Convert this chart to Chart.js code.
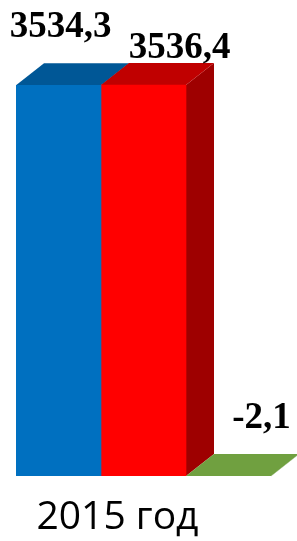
<!DOCTYPE html>
<html>
<head>
<meta charset="utf-8">
<script src="https://cdn.jsdelivr.net/npm/chart.js@4.4.1/dist/chart.umd.min.js"></script>
<style>
  html, body { margin: 0; padding: 0; background: #fff; }
  #wrap { width: 297px; height: 541px; position: relative; }
</style>
</head>
<body>
<div id="wrap"><canvas id="chart"></canvas></div>
<script>
// данные
const categories = ['2015 год'];
const seriesNames = ['Доходы', 'Расходы', 'Дефицит'];
const incomeValues = [3534.3];
const expenseValues = [3536.4];
const balanceValues = [-2.1];

// глубина "3D" граней
const DEPTH_X = 28;
const DEPTH_Y = 22;

function fmt(v) {
  return v.toFixed(1).replace('.', ',');
}

// верх и боковая грань каждого столбика + подписи значений
const depthPlugin = {
  id: 'depth',
  beforeDatasetsDraw(chart) {
    const ctx = chart.ctx;
    chart.data.datasets.forEach((ds, i) => {
      chart.getDatasetMeta(i).data.forEach((bar) => {
        const left = bar.x - bar.width / 2;
        const right = bar.x + bar.width / 2;
        const top = Math.min(bar.y, bar.base);
        const bottom = Math.max(bar.y, bar.base);
        ctx.save();
        ctx.fillStyle = ds.sideColor;
        ctx.beginPath();
        ctx.moveTo(right, top);
        ctx.lineTo(right + DEPTH_X, top - DEPTH_Y);
        ctx.lineTo(right + DEPTH_X, bottom - DEPTH_Y);
        ctx.lineTo(right, bottom);
        ctx.closePath();
        ctx.fill();
        ctx.fillStyle = ds.topColor;
        ctx.beginPath();
        ctx.moveTo(left, top);
        ctx.lineTo(right, top);
        ctx.lineTo(right + DEPTH_X, top - DEPTH_Y);
        ctx.lineTo(left + DEPTH_X, top - DEPTH_Y);
        ctx.closePath();
        ctx.fill();
        ctx.restore();
      });
    });
  },
  afterDatasetsDraw(chart) {
    const ctx = chart.ctx;
    ctx.save();
    ctx.font = 'bold 37px "Liberation Serif", "Times New Roman", serif';
    ctx.fillStyle = '#000';
    ctx.textAlign = 'center';
    ctx.textBaseline = 'alphabetic';
    chart.data.datasets.forEach((ds, i) => {
      chart.getDatasetMeta(i).data.forEach((bar, j) => {
        const top = Math.min(bar.y, bar.base);
        ctx.fillText(fmt(ds.data[j]), bar.x + ds.labelShift[0], top - ds.labelShift[1]);
      });
    });
    ctx.restore();
  }
};

new Chart(document.getElementById('chart'), {
  type: 'bar',
  data: {
    labels: categories,
    datasets: [
      {
        label: seriesNames[0],
        data: incomeValues,
        backgroundColor: '#0070C0',
        topColor: '#005796',
        sideColor: '#004A80',
        labelShift: [2, 48],
      },
      {
        label: seriesNames[1],
        data: expenseValues,
        backgroundColor: '#FF0000',
        topColor: '#C00000',
        sideColor: '#9E0000',
        labelShift: [36, 27],
      },
      {
        label: seriesNames[2],
        data: balanceValues,
        backgroundColor: '#70A040',
        topColor: '#70A040',
        sideColor: '#5A8433',
        labelShift: [33, 48],
      },
    ],
  },
  options: {
    responsive: true,
    maintainAspectRatio: false,
    animation: false,
    layout: { padding: { left: 16, right: 26, top: 78, bottom: 0 } },
    datasets: { bar: { categoryPercentage: 1, barPercentage: 1 } },
    plugins: { legend: { display: false }, tooltip: { enabled: false } },
    scales: {
      x: {
        grid: { display: false },
        border: { display: false },
        afterFit(scale) {
          scale.height = 65; // фиксируем высоту оси, чтобы низ столбиков был на месте
        },
        ticks: {
          color: '#000',
          labelOffset: -26,
          padding: 10,
          font: { family: '"Open Sans", "Noto Sans", sans-serif', size: 39 },
        },
      },
      y: { display: false, min: 0, max: 3600 },
    },
  },
  plugins: [depthPlugin],
});
</script>
</body>
</html>
